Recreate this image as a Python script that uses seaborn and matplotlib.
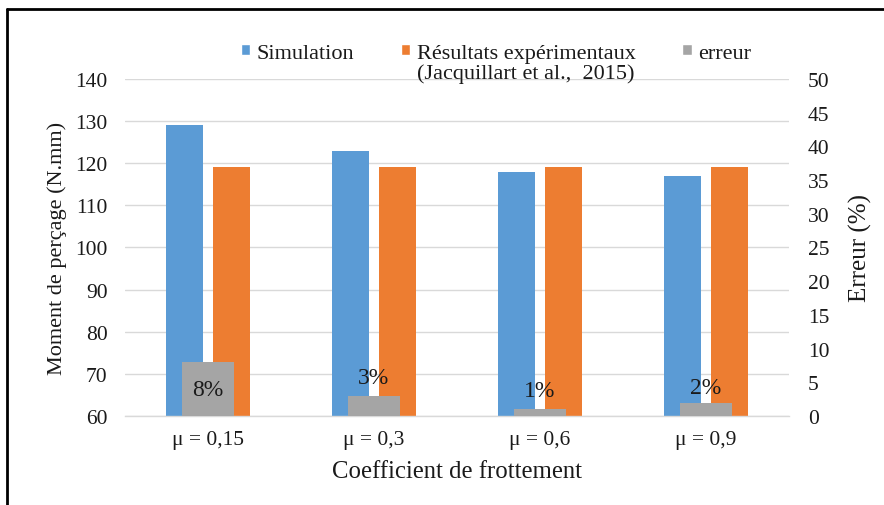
import matplotlib
matplotlib.use("Agg")
import matplotlib.pyplot as plt
from matplotlib.lines import Line2D
from matplotlib.patches import Patch
import seaborn as sns
import pandas as pd

# Friction coefficients and drilling torque results
categories = ["μ = 0,15", "μ = 0,3", "μ = 0,6", "μ = 0,9"]
simulation = [129, 123, 118, 117]
experimental = [119, 119, 119, 119]
error_pct = [8, 3, 1, 2]
error_labels = ["8%", "3%", "1%", "2%"]
# vertical offsets (points) of each error label from the top of its bar
label_offsets = [-20, 13, 13.5, 11]

series_names = ["Simulation", "Résultats expérimentaux"]
colors = {"Simulation": "#5B9BD5", "Résultats expérimentaux": "#ED7D31"}
error_color = "#A5A5A5"
text_color = "#1a1a1a"

sns.set_theme(style="white")
plt.rcParams["font.family"] = ["Liberation Serif", "DejaVu Serif"]
plt.rcParams["text.color"] = text_color
plt.rcParams["axes.labelcolor"] = text_color
plt.rcParams["xtick.color"] = text_color
plt.rcParams["ytick.color"] = text_color

df = pd.DataFrame({
    "cat": categories * 2,
    "serie": [series_names[0]] * 4 + [series_names[1]] * 4,
    "val": simulation + experimental,
})
df_err = pd.DataFrame({"cat": categories, "err": error_pct})

fig = plt.figure(figsize=(8.84, 5.06), dpi=100)
ax = fig.add_axes([0.1414, 0.1759, 0.7511, 0.6660])

sns.barplot(data=df, x="cat", y="val", hue="serie", palette=colors,
            width=0.56, gap=0.21, saturation=1, ax=ax, legend=False,
            order=categories, hue_order=series_names, linewidth=0)
# bars start at the bottom of the value axis
for p in ax.patches:
    y0, h = p.get_y(), p.get_height()
    p.set_y(60)
    p.set_height(y0 + h - 60)

ax.set_ylim(60, 140)
ax.set_yticks(range(60, 141, 10))
ax.set_xlim(-0.5, 3.5)
ax.grid(axis="y", color="#D9D9D9", linewidth=1)
ax.set_axisbelow(True)
for s in ["left", "right", "top"]:
    ax.spines[s].set_visible(False)
ax.spines["bottom"].set_color("#D9D9D9")
ax.spines["bottom"].set_linewidth(1)
ax.tick_params(axis="both", length=0, labelsize=15.5)
ax.tick_params(axis="y", pad=12.5)
ax.tick_params(axis="x", pad=10)
ax.set_xlabel("Coefficient de frottement", fontsize=17.8, labelpad=8)
ax.set_ylabel("Moment de perçage (N.mm)", fontsize=16, labelpad=6)

ax2 = ax.twinx()
sns.barplot(data=df_err, x="cat", y="err", color=error_color, width=0.31,
            saturation=1, ax=ax2, order=categories, linewidth=0)
ax2.set_ylim(0, 50)
ax2.set_yticks(range(0, 51, 5))
ax2.set_xlim(-0.5, 3.5)
for s in ["left", "right", "top", "bottom"]:
    ax2.spines[s].set_visible(False)
ax2.tick_params(axis="y", length=0, labelsize=15.5, pad=13.5)
ax2.set_ylabel("Erreur (%)", fontsize=18, labelpad=14)
ax2.grid(False)

for i, (v, lab, dy) in enumerate(zip(error_pct, error_labels, label_offsets)):
    ax2.annotate(lab, xy=(i, v), xytext=(0, dy), textcoords="offset points",
                 ha="center", va="center", fontsize=17, color=text_color)

handles = [Patch(facecolor=colors[series_names[0]]),
           Patch(facecolor=colors[series_names[1]]),
           Patch(facecolor=error_color)]
leg = fig.legend(handles, ["Simulation", "Résultats expérimentaux", "erreur"],
                 loc="center", bbox_to_anchor=(0.561, 0.893), ncol=3,
                 frameon=False, fontsize=16, handlelength=0.42,
                 handleheight=0.42, handletextpad=0.3, columnspacing=2.1)

fig.canvas.draw()
bb = leg.get_texts()[1].get_window_extent()
inv = fig.transFigure.inverted()
cx, cy = inv.transform(((bb.x0 + bb.x1) / 2, bb.y0))
fig.text(cx, cy - 0.002, "(Jacquillart et al.,  2015)", ha="center", va="top",
         fontsize=16, color=text_color)

# frame lines along the top and left edges
fig.add_artist(Line2D([7.5 / 884, 1.0], [1 - 10 / 506, 1 - 10 / 506],
                      transform=fig.transFigure, color="black", linewidth=2))
fig.add_artist(Line2D([7.5 / 884, 7.5 / 884], [0.0, 1 - 10 / 506],
                      transform=fig.transFigure, color="black", linewidth=2))

fig.savefig("out.png", dpi=100, facecolor="white")
